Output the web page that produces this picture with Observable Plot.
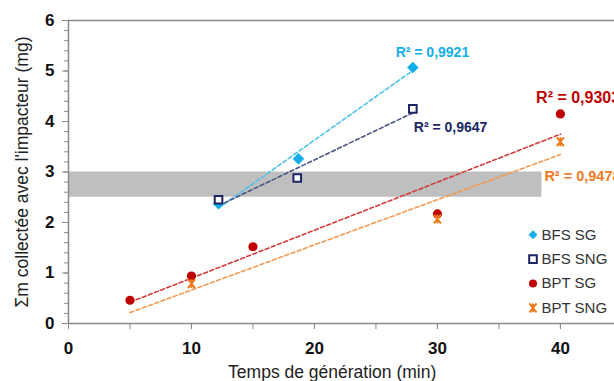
<!DOCTYPE html>
<html>
<head>
<meta charset="utf-8">
<script src="https://cdn.jsdelivr.net/npm/d3@7"></script>
<script src="https://cdn.jsdelivr.net/npm/@observablehq/plot@0.6"></script>
<style>
  html, body { margin: 0; padding: 0; background: #fff; }
  #chart svg { display: block; }
</style>
</head>
<body>
<div id="chart"></div>
<script>
// ---- data ----
const seriesNames = ["BFS SG", "BFS SNG", "BPT SG", "BPT SNG"];
const bfsSgX = [12.2, 18.7, 28.0];
const bfsSgY = [2.37, 3.26, 5.07];
const bfsSngX = [12.2, 18.6, 28.0];
const bfsSngY = [2.45, 2.88, 4.25];
const bptSgX = [5, 10, 15, 30, 40];
const bptSgY = [0.46, 0.94, 1.52, 2.17, 4.15];
const bptSngX = [10, 30, 40];
const bptSngY = [0.79, 2.07, 3.60];
const r2Labels = ["R² = 0,9921", "R² = 0,9647", "R² = 0,9303", "R² = 0,9478"];
const bandLow = 2.5, bandHigh = 3.0, bandXStart = 0, bandXEnd = 38.5;
const yMajorTicks = [0, 1, 2, 3, 4, 5, 6];
const xLabelTicks = [0, 10, 20, 30, 40];
const xTitle = "Temps de génération (min)";
const yTitle = "Σm collectée avec l'impacteur (mg)";

const xs = [bfsSgX, bfsSngX, bptSgX, bptSngX];
const ys = [bfsSgY, bfsSngY, bptSgY, bptSngY];

// ---- styles ----
const excelStar = {
  draw(ctx, size) {
    const r = Math.sqrt(size) * 0.5;
    ctx.moveTo(-r * 0.8, -r); ctx.lineTo(r * 0.8, r);
    ctx.moveTo(r * 0.8, -r); ctx.lineTo(-r * 0.8, r);
    ctx.moveTo(0, -r); ctx.lineTo(0, r);
  }
};
const styles = {
  "BFS SG":  {color: "#13AEEA", line: "#4CC2EE", symbol: "diamond2", r: 5.2, legendR: 4, fill: "#13AEEA", stroke: "none", sw: 0,
              label: {anchor: "middle", dx: 19.6, dy: -14.5, size: 14}},
  "BFS SNG": {color: "#1B2663", line: "#4A5584", symbol: "square", r: 4.3, legendR: 4.3, fill: "white", stroke: "#1B2663", sw: 2,
              label: {anchor: "start", dx: 1, dy: 19, size: 14}},
  "BPT SG":  {color: "#C00000", line: "#D23A3A", symbol: "circle", r: 4.6, legendR: 4, fill: "#C00000", stroke: "none", sw: 0,
              label: {anchor: "start", dx: -24.3, dy: -16.4, size: 16}},
  "BPT SNG": {color: "#EE7A1E", line: "#F29A52", symbol: excelStar, r: 5, legendR: 5, fill: "none", stroke: "#EE7A1E", sw: 2,
              label: {anchor: "start", dx: -16, dy: 34.3, size: 14.5}}
};

// ---- derived tables ----
const points = seriesNames.flatMap((s, i) => xs[i].map((x, j) => ({series: s, x, y: ys[i][j]})));

function fit(X, Y) {
  const mx = d3.mean(X), my = d3.mean(Y);
  let sxy = 0, sxx = 0;
  X.forEach((x, k) => { sxy += (x - mx) * (Y[k] - my); sxx += (x - mx) ** 2; });
  const b = sxy / sxx;
  return [b, my - b * mx];
}
const groupOf = s => s.split(" ")[0];
const groupExtent = g => d3.extent(seriesNames.flatMap((s, i) => groupOf(s) === g ? xs[i] : []));
const trends = seriesNames.flatMap((s, i) => {
  const [b, a] = fit(xs[i], ys[i]);
  return groupExtent(groupOf(s)).map(x => ({series: s, x, y: a + b * x}));
});

const gray = "#8A8A8A";
const marks = [];

// band
marks.push(Plot.rectY([{x1: bandXStart, x2: bandXEnd, y1: bandLow, y2: bandHigh}],
  {x1: "x1", x2: "x2", y1: "y1", y2: "y2", fill: "#BFBFBF"}));

// trend lines
seriesNames.forEach(s => {
  marks.push(Plot.line(trends.filter(d => d.series === s),
    {x: "x", y: "y", stroke: styles[s].line, strokeWidth: 1.6, strokeDasharray: "4,2.6"}));
});

// axes
marks.push(Plot.ruleY([6], {stroke: gray, strokeWidth: 1.6}));
marks.push(Plot.axisY({ticks: d3.range(0, 6, 0.2), tickSize: 4, tickFormat: () => "", stroke: gray, label: null}));
marks.push(Plot.axisY({ticks: yMajorTicks, tickSize: 6, tickPadding: 8, stroke: gray, fill: "#111",
  fontSize: 17, fontWeight: "bold", tickFormat: d => String(d), label: null}));
marks.push(Plot.axisX({ticks: d3.range(0, 45, 5), tickSize: 6, tickFormat: () => "", stroke: gray, label: null}));
marks.push(Plot.axisX({ticks: xLabelTicks, tickSize: 6, tickPadding: 12, stroke: gray, fill: "#111",
  fontSize: 17, fontWeight: "bold", tickFormat: d => String(d), label: null}));
marks.push(Plot.ruleX([0], {stroke: gray, strokeWidth: 1.5}));
marks.push(Plot.ruleY([0], {stroke: gray, strokeWidth: 1.5}));

// points
seriesNames.forEach(s => {
  const st = styles[s];
  marks.push(Plot.dot(points.filter(d => d.series === s),
    {x: "x", y: "y", symbol: st.symbol, r: st.r, fill: st.fill, stroke: st.stroke, strokeWidth: st.sw}));
});

// R² labels
seriesNames.forEach((s, i) => {
  const st = styles[s];
  const last = {x: xs[i][xs[i].length - 1], y: ys[i][ys[i].length - 1], text: r2Labels[i]};
  marks.push(Plot.text([last], {x: "x", y: "y", text: "text", fill: st.color, fontWeight: "bold",
    fontSize: st.label.size, textAnchor: st.label.anchor, lineAnchor: "middle", dx: st.label.dx, dy: st.label.dy}));
});

// legend
seriesNames.forEach((s, i) => {
  const st = styles[s];
  const dy = -88.7 + 24.35 * i;
  marks.push(Plot.dot([s], {frameAnchor: "bottom-right", dx: -81.5, dy, symbol: st.symbol, r: st.legendR,
    fill: st.fill, stroke: st.stroke, strokeWidth: st.sw}));
  marks.push(Plot.text([s], {frameAnchor: "bottom-right", text: d => d, dx: -73, dy, textAnchor: "start",
    lineAnchor: "middle", fontSize: 15, fill: "#333"}));
});

// titles
marks.push(Plot.text([yTitle], {frameAnchor: "left", text: d => d, rotate: -90, dx: -46, textAnchor: "middle",
  lineAnchor: "middle", fontSize: 17.5, fill: "#222"}));
marks.push(Plot.text([xTitle], {frameAnchor: "bottom", text: d => d, dx: -9.3, dy: 49, textAnchor: "middle",
  lineAnchor: "middle", fontSize: 17.5, fill: "#222"}));

const chart = Plot.plot({
  width: 614,
  height: 381,
  marginLeft: 68,
  marginRight: 0,
  marginTop: 20,
  marginBottom: 58,
  x: {domain: [0, 44.4]},
  y: {domain: [0, 6]},
  style: {fontFamily: "'Liberation Sans', Arial, sans-serif", background: "white", overflow: "hidden"},
  marks
});
document.getElementById("chart").append(chart);
</script>
</body>
</html>
